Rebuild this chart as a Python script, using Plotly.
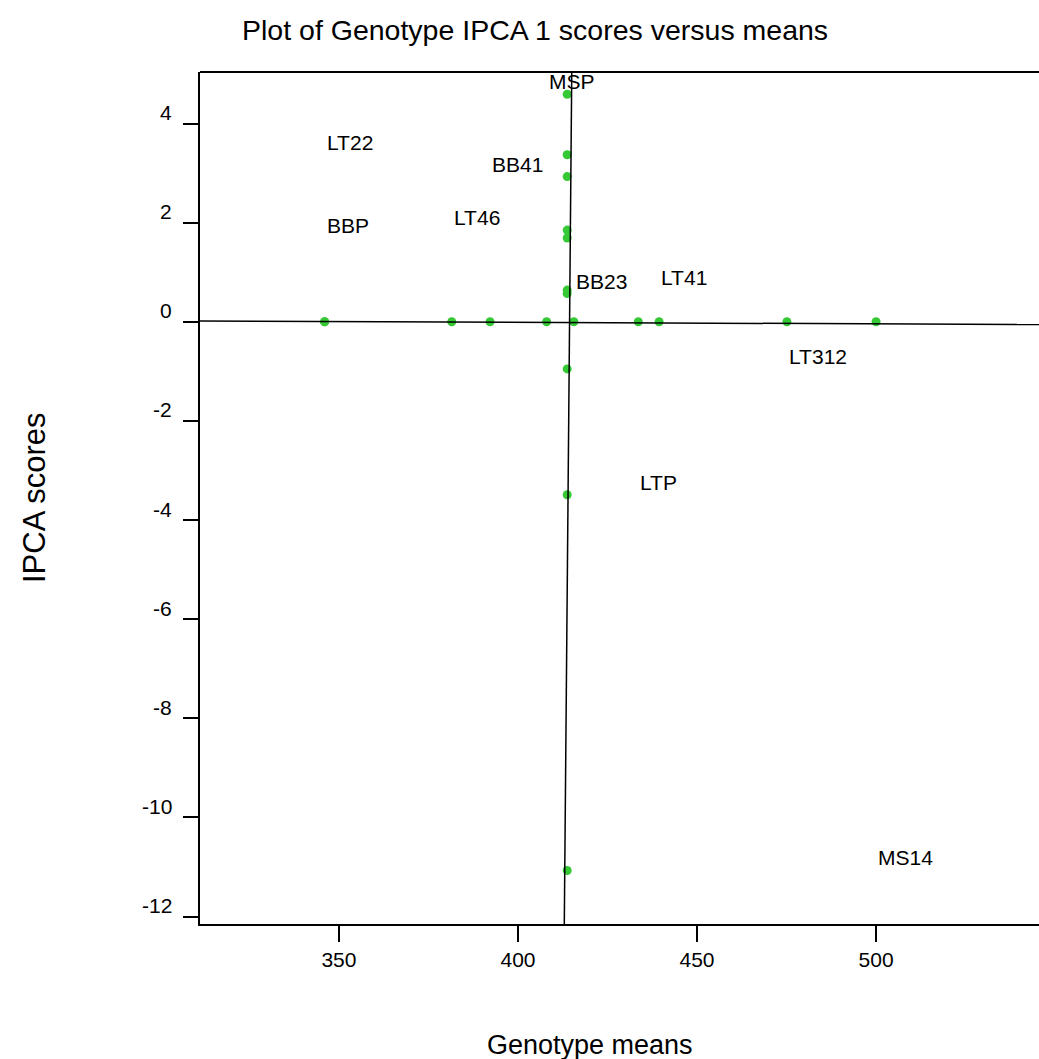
import numpy as np
import plotly.graph_objects as go

# Genotype data
genotypes = ["LT22", "BBP", "LT46", "BB41", "MSP", "BB23", "LTP", "LT41", "LT312", "MS14"]
means = [346.0, 346.0, 381.5, 392.2, 408.0, 415.6, 433.6, 439.4, 475.1, 500.0]
ipca1 = [3.37, 1.69, 1.85, 2.93, 4.59, 0.57, -3.49, 0.64, -0.95, -11.07]

# Reference lines (fitted lines as drawn in the chart)
zero_line_x = [300.0, 560.0]
zero_line_y = [0.02, -0.06]
mean_line_x = [415.05, 412.9]
mean_line_y = [5.3, -12.4]

x_ticks = [350, 400, 450, 500]
y_ticks = [4, 2, 0, -2, -4, -6, -8, -10, -12]

grand_mean = float(np.mean(means))

FONT = "Liberation Sans, Arial, sans-serif"
GREEN = "#36c936"

fig = go.Figure()

# points: genotype means on the zero line
fig.add_trace(go.Scatter(
    x=means, y=[0] * len(means), mode="markers",
    marker=dict(color=GREEN, size=9), showlegend=False, hoverinfo="skip"))
# points: IPCA scores at the grand mean
fig.add_trace(go.Scatter(
    x=[grand_mean] * len(ipca1), y=ipca1, mode="markers",
    marker=dict(color=GREEN, size=9), showlegend=False, hoverinfo="skip"))
# lines
fig.add_trace(go.Scatter(x=zero_line_x, y=zero_line_y, mode="lines",
                         line=dict(color="black", width=1.5), showlegend=False, hoverinfo="skip"))
fig.add_trace(go.Scatter(x=mean_line_x, y=mean_line_y, mode="lines",
                         line=dict(color="black", width=1.5), showlegend=False, hoverinfo="skip"))

annotations = []
for g, m, s in zip(genotypes, means, ipca1):
    annotations.append(dict(x=m, y=s, xref="x", yref="y", text=g, showarrow=False,
                            xanchor="left", yanchor="middle", yshift=12.5,
                            font=dict(family=FONT, size=21, color="black")))
# y tick labels (placed slightly above tick marks as in the original)
for t in y_ticks:
    annotations.append(dict(x=0, y=t, xref="paper", yref="y", text=str(t), showarrow=False,
                            xanchor="right", yanchor="middle", xshift=-26, yshift=11,
                            font=dict(family=FONT, size=21, color="black")))
annotations.append(dict(x=0.5, y=1, xref="paper", yref="paper", text="Plot of Genotype IPCA 1 scores versus means",
                        showarrow=False, xanchor="center", yanchor="middle", xshift=535 - 619.5, yshift=72 - 30,
                        font=dict(family=FONT, size=28.5, color="black")))
annotations.append(dict(x=0, y=0.5, xref="paper", yref="paper", text="IPCA scores", textangle=-90,
                        showarrow=False, xanchor="center", yanchor="middle", xshift=34 - 200,
                        font=dict(family=FONT, size=31, color="black")))
annotations.append(dict(x=0.5, y=0, xref="paper", yref="paper", text="Genotype means",
                        showarrow=False, xanchor="center", yanchor="middle", xshift=590 - 619.5, yshift=924 - 1045,
                        font=dict(family=FONT, size=27, color="black")))

# top frame line (plot box is open on the right, as in the original)
shapes = [dict(type="line", xref="paper", yref="paper", x0=0, x1=1.02, y0=1, y1=1,
               line=dict(color="black", width=2))]

fig.update_layout(
    width=1039, height=1059,
    margin=dict(l=200, r=0, t=72, b=135),
    plot_bgcolor="white", paper_bgcolor="white",
    showlegend=False,
    annotations=annotations,
    shapes=shapes,
    xaxis=dict(range=[311.2, 545.5], tickmode="array", tickvals=x_ticks,
               ticktext=[str(v) for v in x_ticks],
               showline=True, linecolor="black", linewidth=2, mirror=False,
               ticks="outside", ticklen=16, tickwidth=2, tickcolor="black",
               showgrid=False, zeroline=False,
               tickfont=dict(family=FONT, size=21, color="black")),
    yaxis=dict(range=[-12.15, 5.04], tickmode="array", tickvals=y_ticks,
               showticklabels=False,
               showline=True, linecolor="black", linewidth=2, mirror=False,
               ticks="outside", ticklen=15, tickwidth=2, tickcolor="black",
               showgrid=False, zeroline=False),
)

fig.write_html("out.html")
